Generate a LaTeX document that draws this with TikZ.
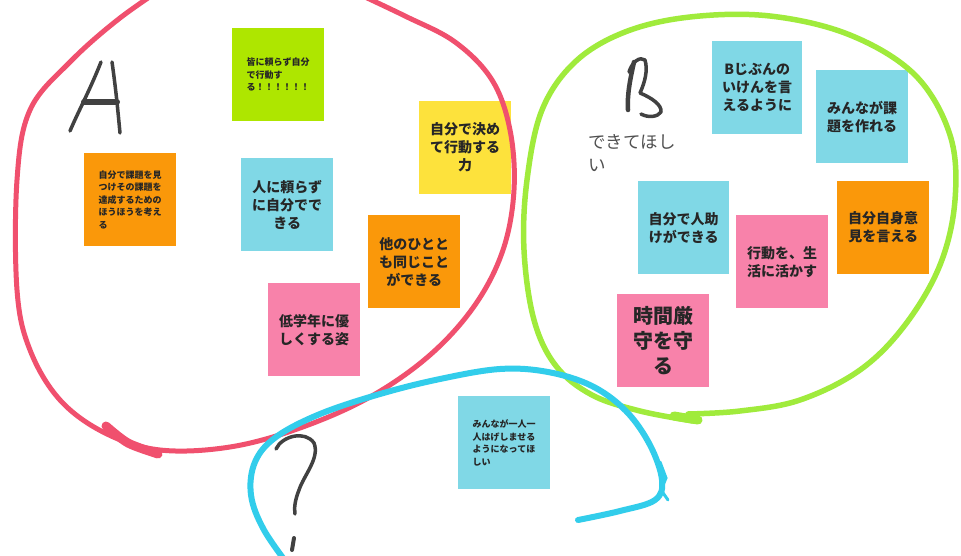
\documentclass[tikz,border=0pt]{standalone}
\usepackage{fontspec}
\newfontfamily\jp{Noto Sans CJK JP}
\definecolor{nlime}{RGB}{174,230,0}
\definecolor{norange}{RGB}{250,152,10}
\definecolor{nblue}{RGB}{128,216,230}
\definecolor{nyellow}{RGB}{253,226,60}
\definecolor{npink}{RGB}{248,130,170}
\definecolor{cred}{RGB}{240,80,110}
\definecolor{cgreen}{RGB}{160,235,60}
\definecolor{ccyan}{RGB}{50,205,235}
\definecolor{ink}{RGB}{65,65,65}
\definecolor{softtext}{RGB}{80,80,80}
\tikzset{
  note/.style={anchor=north west, minimum width=92pt, minimum height=93pt, inner sep=0pt, text=black!85},
  bigtxt/.style={align=center, font=\jp\bfseries\fontsize{14}{18}\selectfont},
  smalltxt/.style={align=left, font=\jp\bfseries\fontsize{9}{12.5}\selectfont},
  loopline/.style={line width=5pt, line cap=round, line join=round},
  brush/.style={draw=ink, line cap=round, line join=round}
}
\begin{document}
\begin{tikzpicture}[x=1pt,y=-1pt]
\useasboundingbox (0,0) rectangle (961,556);
\fill[white] (0,0) rectangle (961,556);
\begin{scope}
\clip (0,0) rectangle (961,556);
% notes, cluster A
\node[note, fill=nlime, smalltxt] (n1) at (232,28) {皆に頼らず自分\\で行動す\\る！！！！！！};
\node[note, fill=norange, smalltxt] (n2) at (84,153) {自分で課題を見\\つけその課題を\\達成するための\\ほうほうを考え\\る};
\node[note, fill=nblue, bigtxt] (n3) at (241,158) {人に頼らず\\に自分でで\\きる};
\node[note, fill=nyellow, bigtxt] (n4) at (419,101) {自分で決め\\て行動する\\力};
\node[note, fill=norange, bigtxt] (n5) at (368,215) {他のひとと\\も同じこと\\ができる};
\node[note, fill=npink, bigtxt] (n6) at (268,283) {低学年に優\\しくする姿};
% notes, cluster B
\node[note, fill=nblue, bigtxt, minimum width=90pt] (n7) at (712,41) {Bじぶんの\\いけんを言\\えるように};
\node[note, fill=nblue, bigtxt] (n8) at (816,70) {みんなが課\\題を作れる};
\node[note, fill=nblue, bigtxt, minimum width=91pt] (n9) at (638,181) {自分で人助\\けができる};
\node[note, fill=npink, bigtxt] (n10) at (736,215) {行動を、生\\活に活かす};
\node[note, fill=norange, bigtxt] (n11) at (837,181) {自分自身意\\見を言える};
\node[note, fill=npink, align=center, font=\jp\bfseries\fontsize{20}{25}\selectfont] (n12) at (617,294) {時間厳\\守を守\\る};
% note, cluster ?
\node[note, fill=nblue, smalltxt] (n13) at (458,396) {みんなが一人一\\人はげしませる\\ようになってほ\\しい};
% free text
\node[anchor=north west, align=left, inner sep=0pt, text=softtext, font=\jp\fontsize{17.5}{23}\selectfont] (t1) at (588,134) {できてほし\\い};
% red loop
\draw[cred, loopline] plot[smooth, tension=0.6] coordinates {(175,-20) (120,18) (70,62) (30,110) (17,180) (17,290) (30,350) (60,400) (105,433) (160,450) (230,447) (300,428) (370,397) (430,355) (475,305) (503,250) (514,190) (510,130) (492,80) (455,42) (405,16) (350,-10)};
\draw[cred, line width=9pt, line cap=round] plot[smooth] coordinates {(106,426) (128,443) (158,454)};
% green loop
\draw[cgreen, loopline, line width=5.5pt] plot[smooth, tension=0.6] coordinates {(693,421) (640,411) (592,395) (556,366) (534,320) (524,250) (527,180) (542,110) (575,62) (625,32) (690,17) (770,16) (850,35) (915,75) (950,135) (955,200) (940,265) (905,325) (860,370) (800,400) (740,411) (688,414)};
\draw[cgreen, line width=9pt, line cap=round] (674,416) -- (698,420);
% cyan loop
\draw[ccyan, loopline, line width=6pt] plot[smooth, tension=0.6] coordinates {(292,570) (264,530) (251,495) (255,462) (276,437) (320,414) (380,394) (440,379) (500,369) (548,372) (592,386) (626,411) (650,445) (662,480) (655,500) (620,511) (578,520)};
\draw[ccyan, line width=3pt, line cap=round] (660,462) -- (666,478) -- (661,490) -- (668,500);
% handwritten letters
\draw[brush, line width=3.5pt] (101,62) .. controls (90,90) and (78,112) .. (70,131);
\draw[brush, line width=3.5pt] (112,62) .. controls (116,90) and (118,112) .. (120,133);
\draw[brush, line width=6pt] (84,102) -- (117,102);
\draw[brush, line width=4.5pt] (634,62) .. controls (630,80) and (627,95) .. (628,110);
\draw[brush, line width=3.5pt] (629,72) .. controls (632,62) and (640,56) .. (645,60) .. controls (648,70) and (645,82) .. (640,93) .. controls (652,98) and (662,105) .. (661,112) .. controls (658,117) and (648,118) .. (641,114);
\draw[brush, line width=3.5pt] (276,449) .. controls (282,436) and (305,430) .. (314,443) .. controls (320,458) and (304,475) .. (299,490) .. controls (295,500) and (294,508) .. (295,514);
\draw[brush, line width=4pt] (294,538) -- (292,550);
\end{scope}
\end{tikzpicture}
\end{document}
